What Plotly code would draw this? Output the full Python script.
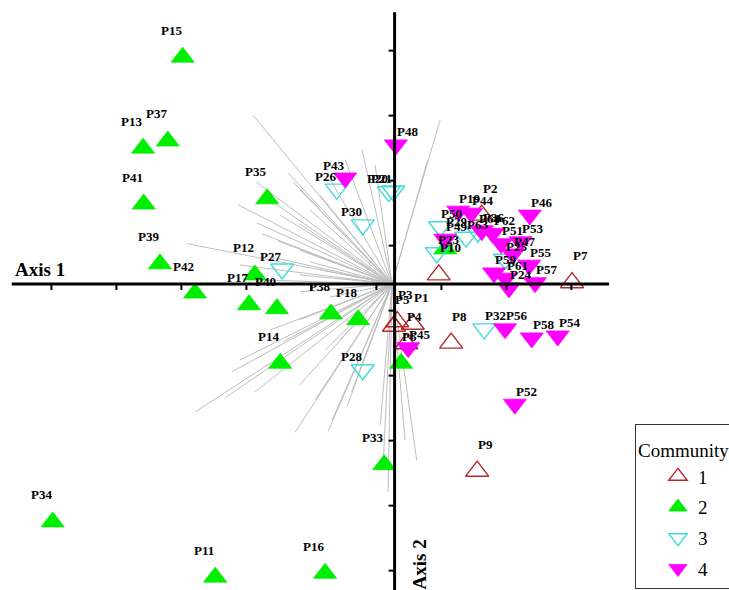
import plotly.graph_objects as go

# ---- site scores on ordination axes 1 and 2, by community ----
c1_lab = ["P7", "P8", "P9", "P2", "P10", "P3", "P1", "P4", "P5"]
c1_x = [2.77, 0.91, 1.31, 1.38, 0.72, 0.08, 0.32, 0.22, 0.03]
c1_y = [0.02, -0.91, -2.88, 1.06, 0.14, -0.58, -0.62, -0.92, -0.65]
c1_side = ["R", "R", "R", "R", "R", "R", "R", "R", "R"]

c2_lab = ["P15", "P13", "P37", "P41", "P35", "P39", "P42", "P12", "P17", "P40",
          "P38", "P18", "P14", "P33", "P34", "P11", "P16", "P6", "P29"]
c2_x = [-3.22, -3.83, -3.45, -3.82, -1.92, -3.57, -3.03, -2.11, -2.20, -1.77,
        -0.94, -0.52, -1.72, -0.12, -5.22, -2.72, -1.03, 0.14, 0.82]
c2_y = [3.49, 2.09, 2.20, 1.23, 1.31, 0.31, -0.14, 0.14, -0.32, -0.38,
        -0.46, -0.55, -1.22, -2.78, -3.66, -4.51, -4.45, -1.22, 0.54]
c2_side = ["L", "L", "L", "L", "L", "L", "L", "L", "L", "L",
           "L", "L", "L", "L", "L", "L", "L", "R", "R"]

c3_lab = ["P26", "P20", "P21", "P30", "P27", "P28", "P32", "P50", "P23", "P63", "P64", "P25"]
c3_x = [-0.85, -0.05, 0.02, -0.45, -1.69, -0.45, 1.42, 0.74, 0.69, 1.14, 1.32, 1.74]
c3_y = [1.46, 1.42, 1.43, 0.91, 0.23, -1.32, -0.69, 0.88, 0.48, 0.72, 0.80, 0.38]
c3_side = ["L", "L", "L", "L", "L", "L", "R", "R", "R", "R", "R", "R"]

c4_lab = ["P48", "P43", "P46", "P19", "P44", "P49", "P36", "P62", "P51", "P47", "P53",
          "P55", "P57", "P59", "P61", "P24", "P56", "P58", "P54", "P52", "P45"]
c4_x = [0.06, -0.72, 2.12, 1.02, 1.22, 0.82, 1.38, 1.55, 1.68, 1.86, 1.98,
        2.11, 2.20, 1.57, 1.75, 1.80, 1.74, 2.15, 2.55, 1.89, 0.25]
c4_y = [2.14, 1.63, 1.06, 1.12, 1.09, 0.69, 0.82, 0.78, 0.62, 0.46, 0.65,
        0.29, 0.02, 0.17, 0.09, -0.06, -0.69, -0.83, -0.80, -1.85, -0.98]
c4_side = ["R", "L", "R", "R", "R", "R", "R", "R", "R", "R", "R",
           "R", "R", "R", "R", "R", "R", "R", "R", "R", "R"]

# ---- species vectors (end points; all start at the origin) ----
vec_x = [-2.14, -1.60, -1.52, -1.42, -2.09, -2.37, -1.88, -1.72, -1.42, -1.26,
         -1.11, -0.95, -0.72, -0.46, -0.26, 0.74, 0.55, -3.15, -2.08, -2.00,
         -1.75, -1.88, -2.34, -1.42, -1.26, -1.95, -1.42, -1.11, -1.42, -0.95,
         -3.03, -2.57, -2.11, -1.68, -1.42, -1.49, -0.98, -0.92, -1.18, -0.69,
         -0.62, -0.49, -0.18, -0.06, -0.14, -2.34, -2.46, -1.88, -1.42, -1.03,
         -0.80, 0.38, 0.20]
vec_y = [2.60, 1.71, 1.57, 1.45, 1.57, 1.22, 1.29, 1.06, 0.92, 1.14,
         1.37, 1.60, 1.91, 2.06, 1.83, 2.52, 1.91, 0.62, 0.94, 0.77,
         0.66, 0.42, 0.29, 0.52, 0.34, 0.06, 0.14, 0.22, -0.12, -0.20,
         -1.97, -1.75, -1.66, -0.89, -1.55, -2.28, -2.26, -2.09, -1.78, -1.88,
         -1.66, -1.32, -2.17, -3.20, -2.86, -1.17, -1.35, -0.71, -0.55, -1.02,
         -0.86, -2.71, -2.40]

# ---- axis frame ----
x_tick_vals = [-5.24, -4.24, -3.24, -2.24, -1.24, -0.24, 0.76, 1.76, 2.76]
y_tick_vals = [3.59, 2.59, 1.59, 0.59, -0.41, -1.41, -2.41, -3.41, -4.41]
x_axis_span = [-5.85, 3.34]
y_axis_span = [4.18, -4.80]
y_axis_pos = 0.04

SERIF = "Liberation Serif"

fig = go.Figure()

# vectors as one broken polyline
lx, ly = [], []
for ex, ey in zip(vec_x, vec_y):
    lx += [0, ex, None]
    ly += [0, ey, None]
fig.add_trace(go.Scatter(x=lx, y=ly, mode="lines", showlegend=False, hoverinfo="skip",
                         line=dict(color="#BEBEBE", width=1)))

groups = [
    ("1", c1_lab, c1_x, c1_y, c1_side, "triangle-up-open", "#B5282A", "up"),
    ("2", c2_lab, c2_x, c2_y, c2_side, "triangle-up", "#00EE00", "up"),
    ("3", c3_lab, c3_x, c3_y, c3_side, "triangle-down-open", "#40DCDC", "down"),
    ("4", c4_lab, c4_x, c4_y, c4_side, "triangle-down", "#FF00FF", "down"),
]

annotations = []
for name, labs, xs, ys, sides, sym, col, direction in groups:
    is_open = sym.endswith("open")
    fig.add_trace(go.Scatter(
        x=xs, y=ys, mode="markers", name=name, legendgroup=name, text=labs,
        marker=dict(symbol=sym, size=20, color=col,
                    line=dict(color=col, width=1.4 if is_open else 0.8)),
    ))
    ysh = 27 if direction == "up" else 13
    for lab, x, y, s in zip(labs, xs, ys, sides):
        annotations.append(dict(
            x=x, y=y, xref="x", yref="y", text=lab, showarrow=False,
            xanchor="right" if s == "L" else "left", yanchor="middle",
            xshift=1 if s == "L" else -1, yshift=ysh,
            font=dict(family=SERIF, size=13, color="black", weight="bold"),
        ))

# axis titles
annotations.append(dict(x=-5.42, y=0.23, xref="x", yref="y", text="Axis 1", showarrow=False,
                        font=dict(family=SERIF, size=19, color="black", weight="bold")))
annotations.append(dict(x=0.42, y=-4.31, xref="x", yref="y", text="Axis 2", showarrow=False,
                        textangle=-90,
                        font=dict(family=SERIF, size=19, color="black", weight="bold")))

shapes = [
    dict(type="line", xref="x", yref="y", x0=x_axis_span[0], x1=x_axis_span[1], y0=0, y1=0,
         line=dict(color="black", width=3)),
    dict(type="line", xref="x", yref="y", x0=y_axis_pos, x1=y_axis_pos,
         y0=y_axis_span[0], y1=y_axis_span[1], line=dict(color="black", width=3)),
]
for tv in x_tick_vals:
    shapes.append(dict(type="line", xref="x", yref="y", x0=tv, x1=tv,
                       ysizemode="pixel", yanchor=0, y0=0, y1=-6,
                       line=dict(color="black", width=2)))
for tv in y_tick_vals:
    shapes.append(dict(type="line", xref="x", yref="y", y0=tv, y1=tv,
                       xsizemode="pixel", xanchor=y_axis_pos, x0=0, x1=-6,
                       line=dict(color="black", width=2)))

fig.update_layout(
    width=729, height=590,
    margin=dict(l=0, r=0, t=0, b=0, pad=0, autoexpand=False),
    paper_bgcolor="white", plot_bgcolor="white",
    xaxis=dict(range=[-6.031, 5.185], visible=False, fixedrange=True),
    yaxis=dict(range=[-4.708, 4.369], visible=False, fixedrange=True),
    shapes=shapes, annotations=annotations,
    legend=dict(x=0.871, y=0.2814, xanchor="left", yanchor="top",
                bordercolor="#333333", borderwidth=1, bgcolor="white",
                font=dict(family=SERIF, size=19, color="black"),
                title=dict(text="<span style='font-size:19px'>Community</span>",
                           font=dict(family=SERIF, size=25, color="black")),
                tracegroupgap=3, indentation=22),
    showlegend=True,
)

fig.write_html("out.html")
